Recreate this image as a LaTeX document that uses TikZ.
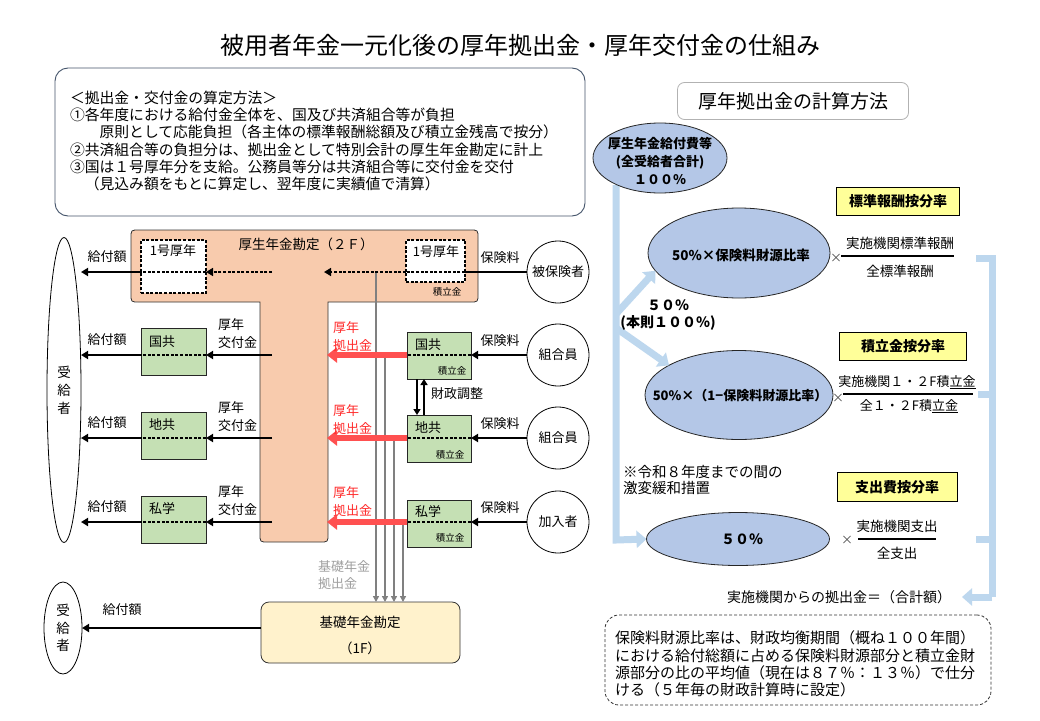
\documentclass[tikz,border=0pt]{standalone}
\usepackage{fontspec}
\setmainfont{Noto Sans CJK JP}
\usetikzlibrary{arrows.meta,shapes.geometric}
\definecolor{peach}{HTML}{F8CBAD}
\definecolor{grn}{HTML}{C5E0B4}
\definecolor{cream}{HTML}{FFF2CC}
\definecolor{ellblue}{HTML}{B4C7E7}
\definecolor{lblue}{HTML}{BDD7EE}
\definecolor{ylw}{HTML}{FFFF99}
\definecolor{redar}{HTML}{FF5050}
\definecolor{redtx}{HTML}{FF2A2A}
\definecolor{boxborder}{HTML}{44546A}
\definecolor{grayl}{HTML}{808080}
\definecolor{graytx}{HTML}{A0A0A0}
\newcommand\myfs[2]{\fontsize{#1}{#2}\selectfont}
\begin{document}
\begin{tikzpicture}[x=1pt,y=-1pt,
  every node/.style={inner sep=0pt,outer sep=0pt},
  txt/.style={font=\myfs{13}{18},align=center},
  txtl/.style={font=\myfs{13}{18},align=left,anchor=west},
  redtxt/.style={txtl,text=redtx},
  small/.style={font=\myfs{9.5}{11}},
  blk/.style={draw=black,line width=2.2pt},
  blkarr/.style={blk,-{Triangle[length=7pt,width=8pt]}},
  dsh/.style={draw=black,line width=1.6pt,dash pattern=on 3pt off 1.6pt},
  dsharr/.style={dsh,-{Triangle[length=7pt,width=8pt]}},
  dbox/.style={draw=black,line width=1.3pt,dash pattern=on 3pt off 1.6pt,fill=white,anchor=north west},
  gbox/.style={draw=black!85,line width=0.8pt,fill=grn,anchor=north west,minimum width=65pt,minimum height=47pt},
  redarr/.style={draw=redar,line width=6pt,-{Triangle[length=10pt,width=15pt]}},
  gryarr/.style={draw=grayl,line width=1.8pt,-{Triangle[length=6pt,width=6pt]}},
  blu/.style={draw=lblue,line width=7pt},
  bluarr/.style={blu,-{Triangle[length=10pt,width=17pt]}},
  ell/.style={ellipse,draw=black!85,line width=0.8pt,fill=ellblue},
  etxt/.style={font=\bfseries\myfs{13.5}{18},align=center},
  ybox/.style={draw=black,line width=0.8pt,fill=ylw,font=\bfseries\myfs{14}{16}},
  frac/.style={font=\myfs{13}{16}},
  circ/.style={circle,draw=black,line width=0.8pt,fill=white,minimum size=62pt,font=\myfs{13}{16}}
]
\path[use as bounding box, fill=white] (0,0) rectangle (1040,720);

% ---------- title ----------
\node[font=\myfs{24}{28}] (title) at (520,45) {被用者年金一元化後の厚年拠出金・厚年交付金の仕組み};

% ---------- rules box ----------
\node[draw=boxborder,line width=0.9pt,rounded corners=13pt,minimum width=530pt,minimum height=148pt,anchor=north west] (rulebox) at (55,68) {};
\node[anchor=north west,align=left,font=\myfs{14.8}{17.2}] (ruletext) at (70,91) {＜拠出金・交付金の算定方法＞\\①各年度における給付金全体を、国及び共済組合等が負担\\　　原則として応能負担（各主体の標準報酬総額及び積立金残高で按分）\\②共済組合等の負担分は、拠出金として特別会計の厚生年金勘定に計上\\③国は１号厚年分を支給。公務員等分は共済組合等に交付金を交付\\　（見込み額をもとに算定し、翌年度に実績値で清算）};

% ---------- calc title ----------
\node[draw=black!30,line width=0.8pt,rounded corners=7pt,minimum width=231pt,minimum height=37pt,font=\myfs{19}{22}] (calctitle) at (793,101) {厚年拠出金の計算方法};

% ---------- T shaped account ----------
\draw[fill=peach,draw=black!80,line width=0.8pt]
  (139,230) -- (470,230) .. controls (478,230) .. (478,238) -- (478,294) .. controls (478,302) .. (470,302)
  -- (328,302) -- (328,534) .. controls (328,542) .. (320,542) -- (268,542) .. controls (260,542) .. (260,534)
  -- (260,302) -- (139,302) .. controls (131,302) .. (131,294) -- (131,238) .. controls (131,230) .. (139,230) -- cycle;
\node[font=\myfs{13.5}{16}] (tacct) at (306,244) {厚生年金勘定（２Ｆ）};

% row coordinates
\coordinate (sT) at (272,272);
\coordinate (sK) at (272,355);
\coordinate (sC) at (272,438);
\coordinate (sS) at (272,522);
\coordinate (tR) at (324,272);
\coordinate (rK) at (327,355);
\coordinate (rC) at (327,438);
\coordinate (rS) at (327,522);

% dashed boxes 1号厚年
\node[dbox,minimum width=65pt,minimum height=53pt] (b1L) at (141,240) {};
\node[font=\myfs{13}{16}] (b1Lt) at (173,251) {1号厚年};
\node[dbox,minimum width=59pt,minimum height=42pt] (b1R) at (406,240) {};
\node[font=\myfs{13}{16}] (b1Rt) at (436,252) {1号厚年};
\node[small] (b1Rs) at (447,292) {積立金};

% left green boxes
\node[gbox] (gKL) at (141,328) {};
\node[gbox] (gCL) at (141,412) {};
\node[gbox] (gSL) at (141,496) {};
\node[font=\myfs{13}{16}] (gKLt) at (162,342) {国共};
\node[font=\myfs{13}{16}] (gCLt) at (162,425) {地共};
\node[font=\myfs{13}{16}] (gSLt) at (162,509) {私学};

% right green boxes
\node[gbox,minimum width=64pt] (gKR) at (407,332) {};
\node[gbox,minimum width=64pt] (gCR) at (407,415) {};
\node[gbox,minimum width=64pt] (gSR) at (407,500) {};
\node[font=\myfs{13}{16}] (gKRt) at (428,345) {国共};
\node[font=\myfs{13}{16}] (gCRt) at (428,428) {地共};
\node[font=\myfs{13}{16}] (gSRt) at (428,512) {私学};
\node[small] (gKRs) at (452,371) {積立金};
\node[small] (gCRs) at (450,455) {積立金};
\node[small] (gSRs) at (450,538) {積立金};

% receivers ellipse (left)
\node[ellipse,draw=black,line width=0.8pt,minimum width=34pt,minimum height=305pt,font=\myfs{13.5}{18},align=center] (recv) at (64,390) {受\\給\\者};

% circles
\node[circ] (c1) at (558,272) {被保険者};
\node[circ] (c2) at (558,355) {組合員};
\node[circ] (c3) at (558,438) {組合員};
\node[circ] (c4) at (558,522) {加入者};

% kiso account
\node[draw=black!80,line width=0.8pt,fill=cream,rounded corners=8pt,minimum width=199pt,minimum height=61pt,anchor=north west] (kiso) at (261,602) {};
\node[font=\myfs{13.5}{16}] (kisot1) at (360,622) {基礎年金勘定};
\node[font=\myfs{13.5}{16}] (kisot2) at (360,648) {（1F）};
\node[ellipse,draw=black,line width=0.8pt,minimum width=38pt,minimum height=92pt,font=\myfs{13.5}{17.5},align=center] (recv2) at (63,628) {受\\給\\者};

% gray basic pension lines
\coordinate (g1) at (376,272);
\coordinate (g2) at (385,355);
\coordinate (g3) at (394,438);
\coordinate (g4) at (403,522);
\draw[gryarr] (g1) -- (g1 |- kiso.north);
\draw[gryarr] (g2) -- (g2 |- kiso.north);
\draw[gryarr] (g3) -- (g3 |- kiso.north);
\draw[gryarr] (g4) -- (g4 |- kiso.north);
\node[font=\myfs{13}{17},text=graytx,align=left,anchor=west] (kisolbl) at (318,575) {基礎年金\\拠出金};

% top row flows
\draw[blk] (c1.west) -- (b1R.east |- c1);
\draw[dsh] (b1R.east |- c1) -- (b1R.west |- c1);
\draw[dsharr] (b1R.west |- c1) -- (tR);
\draw[dsharr] (sT) -- (b1L.east |- sT);
\draw[dsh] (b1L.east |- sT) -- (b1L.west |- sT);
\draw[blkarr] (b1L.west |- sT) -- (recv.east |- sT);

% right side flows (premiums)
\draw[blkarr] (c2.west) -- (gKR.east |- c2);
\draw[blkarr] (c3.west) -- (gCR.east |- c3);
\draw[blkarr] (c4.west) -- (gSR.east |- c4);
\draw[dsh] (gKR.east |- c2) -- (gKR.west |- c2);
\draw[dsh] (gCR.east |- c3) -- (gCR.west |- c3);
\draw[dsh] (gSR.east |- c4) -- (gSR.west |- c4);

% red contributions
\draw[redarr] (gKR.west |- c2) -- (rK);
\draw[redarr] (gCR.west |- c3) -- (rC);
\draw[redarr] (gSR.west |- c4) -- (rS);

% left side flows
\draw[blkarr] (sK) -- (gKL.east |- sK);
\draw[blkarr] (sC) -- (gCL.east |- sC);
\draw[blkarr] (sS) -- (gSL.east |- sS);
\draw[dsh] (gKL.east |- sK) -- (gKL.west |- sK);
\draw[dsh] (gCL.east |- sC) -- (gCL.west |- sC);
\draw[dsh] (gSL.east |- sS) -- (gSL.west |- sS);
\draw[blkarr] (gKL.west |- sK) -- (recv.east |- sK);
\draw[blkarr] (gCL.west |- sC) -- (recv.east |- sC);
\draw[blkarr] (gSL.west |- sS) -- (recv.east |- sS);

% financial adjustment
\coordinate (fa1) at (417,0);
\coordinate (fa2) at (424,0);
\draw[draw=black,line width=2pt,-{Triangle[length=6pt,width=7pt]}] (gKR.south -| fa1) -- (gCR.north -| fa1);
\draw[draw=black,line width=2pt,-{Triangle[length=6pt,width=7pt]}] (gCR.north -| fa2) -- (gKR.south -| fa2);
\node[font=\myfs{13}{16}] (adj) at (457,394) {財政調整};

% bottom flow
\draw[blkarr] (kiso.west |- recv2) -- (recv2.east);
\node[txt] (kyuB) at (122,610) {給付額};

% labels
\node[txt] (kyu1) at (107,257) {給付額};
\node[txt] (kyu2) at (107,340) {給付額};
\node[txt] (kyu3) at (107,423) {給付額};
\node[txt] (kyu4) at (107,507) {給付額};
\node[txtl] (kofK) at (218,334) {厚年\\交付金};
\node[txtl] (kofC) at (218,417) {厚年\\交付金};
\node[txtl] (kofS) at (218,501) {厚年\\交付金};
\node[redtxt] (kyoK) at (333,337) {厚年\\拠出金};
\node[redtxt] (kyoC) at (333,420) {厚年\\拠出金};
\node[redtxt] (kyoS) at (333,502) {厚年\\拠出金};
\node[txt] (hok1) at (500,258) {保険料};
\node[txt] (hok2) at (500,341) {保険料};
\node[txt] (hok3) at (500,424) {保険料};
\node[txt] (hok4) at (500,508) {保険料};

% ---------- right side ----------
\coordinate (bv1) at (616,185);
\coordinate (bv2) at (616,540);
\coordinate (bb1) at (616,314);
\coordinate (bb2) at (616,328);
\node[ell,minimum width=183pt,minimum height=53pt] (e3) at (738,539) {};
\draw[bluarr] (bv1) -- (bv2) -- (e3.west);
\node[ell,minimum width=182pt,minimum height=90pt] (e1) at (739,253) {};
\node[ell,minimum width=188pt,minimum height=89pt] (e2) at (739,395) {};
\draw[bluarr] (bb1) -- (e1.192);
\draw[bluarr] (bb2) -- (e2.157);
\node[ell,minimum width=134pt,minimum height=70pt] (e0) at (660,158) {};
\node[etxt,font=\bfseries\myfs{13}{18}] (e0t) at (660,161) {厚生年金給付費等\\(全受給者合計)\\１００％};
\node[etxt] (e1t) at (741,255) {50\%×保険料財源比率};
\node[etxt,font=\bfseries\myfs{13}{18}] (e2t) at (740,396) {50\%×（1−保険料財源比率）};
\node[etxt,font=\bfseries\myfs{14}{18}] (e3t) at (742,539) {５０％};

\node[font=\bfseries\myfs{14}{17},align=center] (half) at (668,315.5) {５０％\\(本則１００％)};
\node[font=\myfs{14.5}{16},align=left,anchor=west] (note8) at (623,480) {※令和８年度までの間の\\激変緩和措置};

% yellow boxes
\node[ybox,minimum width=123pt,minimum height=28pt] (y1) at (898,201) {標準報酬按分率};
\node[ybox,minimum width=127pt,minimum height=28pt] (y2) at (903,346) {積立金按分率};
\node[ybox,minimum width=120pt,minimum height=29pt] (y3) at (897,487) {支出費按分率};

% multiplication signs
\node[font=\myfs{12}{14},text=black!70] (x1) at (836,258) {×};
\node[font=\myfs{12}{14},text=black!70] (x2) at (838,398) {×};
\node[font=\myfs{12}{14},text=black!70] (x3) at (847,540) {×};

% fractions
\node[frac,font=\myfs{13.5}{16}] (f1n) at (900,243) {実施機関標準報酬};
\node[frac,font=\myfs{13.5}{16}] (f1d) at (900,271) {全標準報酬};
\coordinate (f1a) at (841,256);
\coordinate (f1b) at (954,256);
\draw[line width=2pt] (f1a) -- (f1b);
\node[frac] (f2n) at (907,382) {実施機関１・２F積\underline{立金}};
\node[frac] (f2d) at (909,406) {全１・２F積\underline{立金}};
\coordinate (f2a) at (843,394);
\coordinate (f2b) at (973,394);
\draw[line width=2pt] (f2a) -- (f2b);
\node[frac,font=\myfs{13.5}{16}] (f3n) at (897,526) {実施機関支出};
\node[frac,font=\myfs{13.5}{16}] (f3d) at (897,553) {全支出};
\coordinate (f3a) at (858,539);
\coordinate (f3b) at (936,539);
\draw[line width=2pt] (f3a) -- (f3b);

% sum bracket
\node[font=\myfs{14}{16},anchor=east] (sumtext) at (951,597) {実施機関からの拠出金＝（合計額）};
\coordinate (k1) at (976,258);
\coordinate (k2) at (992,258);
\coordinate (k3) at (992,597);
\coordinate (k4) at (978,394);
\coordinate (k5) at (976,539);
\coordinate (k6) at (962,597);
\draw[blu] (k1) -- (k2) -- (k3);
\draw[blu] (k4) -- (k4 -| k2);
\draw[blu] (k5) -- (k5 -| k2);
\draw[bluarr] (k3) -- (k6);

% note box
\node[draw=black!80,line width=0.8pt,dash pattern=on 3pt off 2pt,rounded corners=14pt,minimum width=386pt,minimum height=90pt,anchor=north west] (notebox) at (605,615) {};
\node[anchor=north west,align=left,font=\myfs{15}{17.3}] (notetext) at (615,631) {保険料財源比率は、財政均衡期間（概ね１００年間）\\における給付総額に占める保険料財源部分と積立金財\\源部分の比の平均値（現在は８７％：１３％）で仕分\\ける（５年毎の財政計算時に設定）};
\end{tikzpicture}
\end{document}
